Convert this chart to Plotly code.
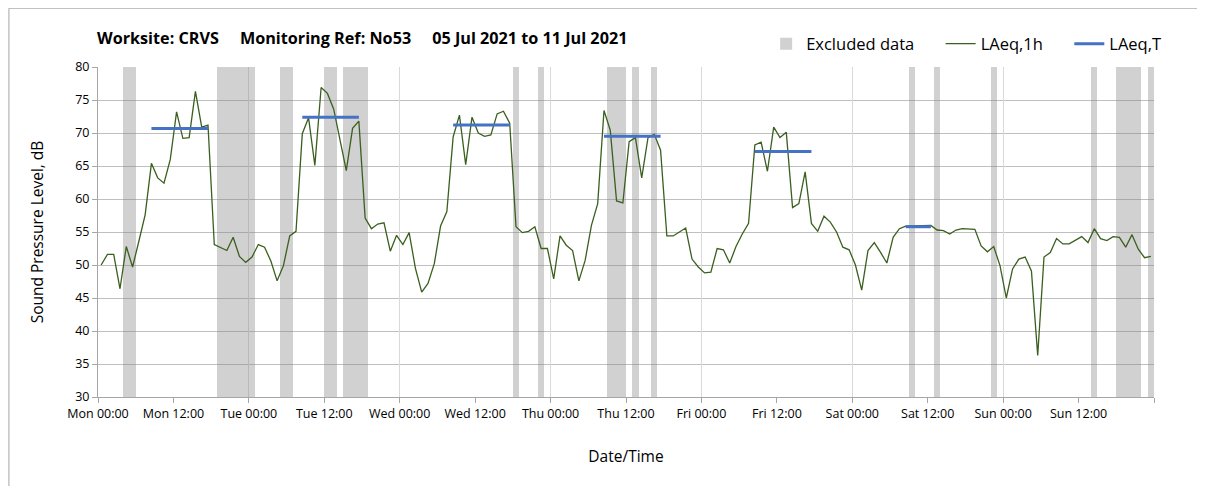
import pandas as pd
import plotly.graph_objects as go

# ---------------- data ----------------
start_time = "2021-07-05 00:30"          # first hourly value (plotted mid-hour)
laeq_1h = [
    # Mon
    50.0, 51.6, 51.6, 46.4, 52.8, 49.7, 53.6, 57.6, 65.4, 63.2, 62.4, 66.0,
    73.2, 69.2, 69.3, 76.3, 70.9, 71.2, 53.1, 52.7, 52.2, 54.2, 51.3, 50.4,
    # Tue
    51.2, 53.1, 52.7, 50.6, 47.6, 49.9, 54.4, 55.1, 69.9, 72.3, 65.1, 76.9,
    76.0, 73.6, 69.2, 64.3, 70.7, 71.8, 57.1, 55.5, 56.2, 56.4, 52.1, 54.5,
    # Wed
    53.1, 54.9, 49.5, 45.9, 47.2, 50.2, 55.9, 58.1, 69.4, 72.7, 65.2, 72.4,
    70.0, 69.5, 69.7, 72.9, 73.3, 71.5, 55.8, 54.9, 55.1, 55.8, 52.5, 52.5,
    # Thu
    47.9, 54.4, 53.0, 52.2, 47.6, 50.7, 56.0, 59.3, 73.4, 70.4, 59.7, 59.4,
    68.7, 69.3, 63.2, 69.3, 69.8, 67.4, 54.4, 54.4, 55.0, 55.6, 50.9, 49.7,
    # Fri
    48.8, 48.9, 52.5, 52.3, 50.3, 52.8, 54.7, 56.3, 68.2, 68.6, 64.2, 70.9,
    69.3, 70.1, 58.7, 59.3, 64.1, 56.3, 55.1, 57.4, 56.5, 55.0, 52.7, 52.3,
    # Sat
    50.0, 46.2, 52.2, 53.4, 51.9, 50.3, 54.2, 55.5, 55.9, 55.9, 55.9, 55.9,
    56.0, 55.3, 55.2, 54.7, 55.3, 55.5, 55.5, 55.4, 52.9, 52.0, 52.8, 49.9,
    # Sun
    45.0, 49.4, 50.9, 51.2, 49.1, 36.3, 51.2, 51.9, 54.0, 53.2, 53.2, 53.7,
    54.3, 53.4, 55.5, 54.0, 53.7, 54.3, 54.2, 52.7, 54.6, 52.4, 51.1, 51.3,
]

# LAeq,T periods (index of first / last hourly value) and levels
laeq_t_first = [8, 32, 56, 80, 104, 128]
laeq_t_last = [17, 41, 65, 89, 113, 132]
laeq_t_values = [70.7, 72.4, 71.2, 69.5, 67.2, 55.8]

# Excluded data periods (hours from Mon 00:00)
excl_start = [4, 19, 29, 36, 39, 66, 70, 81, 85, 88, 129, 133, 142, 158, 162, 167]
excl_end = [6, 25, 31, 38, 43, 67, 71, 84, 86, 89, 130, 134, 143, 159, 166, 168]

week_start = "2021-07-05 00:00"
week_end = "2021-07-12 00:00"
tick_labels = ["Mon 00:00", "Mon 12:00", "Tue 00:00", "Tue 12:00", "Wed 00:00",
               "Wed 12:00", "Thu 00:00", "Thu 12:00", "Fri 00:00", "Fri 12:00",
               "Sat 00:00", "Sat 12:00", "Sun 00:00", "Sun 12:00", ""]

SP = "\u00a0"
title_text = ("Worksite: CRVS" + SP * 5 + "Monitoring Ref: No53" + SP * 5 +
              "05 Jul 2021 to 11 Jul 2021")
legend_names = ["Excluded data" + SP * 5, "LAeq,1h" + SP * 5, "LAeq,T"]

# ---------------- derived ----------------
times = pd.date_range(start_time, periods=len(laeq_1h), freq="h")
t0 = pd.Timestamp(week_start)
t1 = pd.Timestamp(week_end)
hour = pd.Timedelta(hours=1)

tx, ty = [], []
for a, b, v in zip(laeq_t_first, laeq_t_last, laeq_t_values):
    tx += [times[a], times[b], None]
    ty += [v, v, None]

ex_center = [t0 + (s + e) / 2 * hour for s, e in zip(excl_start, excl_end)]
ex_width = [(e - s) * 3600 * 1000 for s, e in zip(excl_start, excl_end)]

tickvals = pd.date_range(week_start, periods=len(tick_labels), freq="12h")

FONT = "Open Sans"
W, H = 1205, 486
ML, MR, MT, MB = 89.6, 59, 59.3, 96.7
PW, PH = W - ML - MR, H - MT - MB

fig = go.Figure()

fig.add_trace(go.Bar(
    x=ex_center, y=[50] * len(ex_center), base=[30] * len(ex_center),
    width=ex_width, name=legend_names[0],
    marker=dict(color="rgba(135,135,135,0.38)", line=dict(width=0)),
    hoverinfo="skip",
))
fig.add_trace(go.Scatter(
    x=times, y=laeq_1h, mode="lines", name=legend_names[1],
    line=dict(color="#3A5F1E", width=1.3),
))
fig.add_trace(go.Scatter(
    x=tx, y=ty, mode="lines", name=legend_names[2],
    line=dict(color="#4472C4", width=3),
))
# helper trace for the midnight gridlines axis
fig.add_trace(go.Scatter(
    x=[t0, t1], y=[None, None], xaxis="x2",
    showlegend=False, hoverinfo="skip",
))

fig.update_layout(
    width=W, height=H,
    margin=dict(l=ML, r=MR, t=MT, b=MB, autoexpand=False),
    paper_bgcolor="white", plot_bgcolor="white",
    font=dict(family=FONT, color="#000000", size=12),
    showlegend=True,
    legend=dict(orientation="h", x=(758 - ML) / PW, y=1.07,
                xanchor="left", yanchor="middle",
                font=dict(size=16.5, family=FONT), traceorder="normal",
                bgcolor="rgba(0,0,0,0)", itemwidth=30),
    bargap=0,
    xaxis=dict(
        range=[t0, t1], type="date",
        tickvals=tickvals, ticktext=tick_labels,
        showgrid=False, showline=True, linecolor="#A6A6A6", linewidth=1,
        ticks="outside", ticklen=5, tickcolor="#A6A6A6",
        tickfont=dict(size=12.5, family=FONT),
        title=dict(text="Date/Time", font=dict(size=15.5, family=FONT), standoff=30),
        automargin=False,
    ),
    xaxis2=dict(
        overlaying="x", anchor="y", side="bottom", type="date",
        range=[t0, t1],
        tick0=week_start, dtick=86400000,
        showgrid=True, gridcolor="#D9D9D9", gridwidth=1,
        showticklabels=False, ticks="", showline=False, zeroline=False,
    ),
    yaxis=dict(
        range=[30, 80], dtick=5, tick0=30,
        showgrid=True, gridcolor="#BFBFBF", gridwidth=1,
        showline=True, linecolor="#A6A6A6", linewidth=1,
        ticks="outside", ticklen=5, tickcolor="#A6A6A6",
        tickfont=dict(size=12.5, family=FONT), zeroline=False,
        title=dict(text="Sound Pressure Level, dB", font=dict(size=15.5, family=FONT),
                   standoff=27),
        automargin=False,
    ),
    annotations=[dict(
        text=title_text, xref="paper", yref="paper", x=-3 / PW, y=1.088,
        xanchor="left", yanchor="middle", showarrow=False,
        font=dict(size=16.2, family=FONT, color="#000000", weight="bold"),
    )],
    shapes=[dict(
        type="rect", xref="paper", yref="paper",
        x0=(0.5 - ML) / PW, x1=(W + 20 - ML) / PW,
        y0=-(H + 20 - PH - MT) / PH, y1=(PH + MT - 0.5) / PH,
        line=dict(color="#A6A6A6", width=1), fillcolor="rgba(0,0,0,0)", layer="below",
    )],
)

fig.write_html("out.html")
